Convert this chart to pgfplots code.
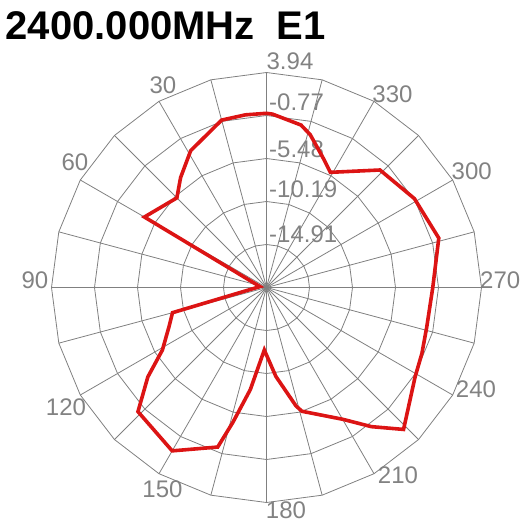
\documentclass[border=0pt]{standalone}
\usepackage{pgfplots}
\usepackage{pgfplotstable}
\pgfplotsset{compat=1.18}
\usepgfplotslibrary{polar}
\usepackage{fontspec}
\setmainfont{Liberation Sans}

\definecolor{gridc}{RGB}{128,128,128}
\definecolor{labc}{RGB}{130,130,130}
\definecolor{curvec}{RGB}{220,20,20}

% pattern: angle (deg, counterclockwise from top) and level (dB)
\pgfplotstableread{
ang db
0 -0.53
7 -0.56
15 -0.63
29 -2.48
38 -4.33
45 -5.73
60 -4.17
82 -18.9
105 -8.96
112 -8.09
121 -6.31
127 -3.34
134 -0.04
150 1.05
163 -1.34
166 -4.39
171 -8.30
178 -12.77
186 -9.83
194 -6.24
196 -5.51
210 -2.95
217 -0.53
224 2.00
239 -0.62
247 -1.12
256 -1.53
270 -1.40
286 0.02
301 -0.71
316 -1.72
331 -5.19
336 -4.21
344 -2.21
348 -1.42
358 -0.61
360 -0.53
}\patterndata

\begin{document}
\begin{tikzpicture}[x=1pt,y=1pt]
\path[use as bounding box] (0,0) rectangle (520,-527);
\clip (0,0) rectangle (520,-527);

\node[anchor=base west,inner sep=0pt,font=\fontsize{40}{48}\selectfont\bfseries] at (5.5,-40) {2400.000MHz\ \ E1};

\begin{scope}[every node/.style={inner sep=0pt,text=labc,font=\fontsize{24}{28}\selectfont}]
  \node[anchor=base] at (163,-93) {30};
  \node[anchor=base] at (75,-170) {60};
  \node[anchor=base] at (35,-288) {90};
  \node[anchor=base] at (66,-415) {120};
  \node[anchor=base] at (162.5,-497) {150};
  \node[anchor=base] at (286,-518) {180};
  \node[anchor=base] at (398,-483) {210};
  \node[anchor=base] at (476,-397) {240};
  \node[anchor=base west] at (480,-288) {270};
  \node[anchor=base] at (471.7,-179) {300};
  \node[anchor=base] at (392.5,-102) {330};
  \node[anchor=base] at (290,-70) {3.94};
  \node[anchor=base west] at (269,-110) {-0.77};
  \node[anchor=base west] at (269,-157) {-5.48};
  \node[anchor=base west] at (269,-197) {-10.19};
  \node[anchor=base west] at (269,-242) {-14.91};
\end{scope}

\begin{polaraxis}[
  at={(266.5pt,-287.5pt)}, anchor=origin,
  scale only axis, width=430pt, height=430pt,
  xmin=0, xmax=360, ymin=0, ymax=23.56,
  hide axis, clip=false,
]
  % polygon rings every 15 degrees
  \pgfplotsinvokeforeach{4.712,9.424,14.136,18.848,23.56}{
    \addplot[gridc, line width=0.8pt, mark=none] coordinates {
      (0,#1)(15,#1)(30,#1)(45,#1)(60,#1)(75,#1)(90,#1)(105,#1)(120,#1)
      (135,#1)(150,#1)(165,#1)(180,#1)(195,#1)(210,#1)(225,#1)(240,#1)
      (255,#1)(270,#1)(285,#1)(300,#1)(315,#1)(330,#1)(345,#1)(360,#1)};
  }
  \pgfplotsinvokeforeach{0,15,...,345}{
    \draw[gridc, line width=0.8pt] (axis cs:#1,0) -- (axis cs:#1,23.56);
  }
  \draw[gridc, line width=0.8pt] (axis cs:0,23.56) -- ++(10pt,0pt);

  \addplot[curvec, line width=3.6pt, mark=none]
    table[x expr=\thisrow{ang}+90, y expr=\thisrow{db}+19.62] {\patterndata};
\end{polaraxis}
\end{tikzpicture}
\end{document}
